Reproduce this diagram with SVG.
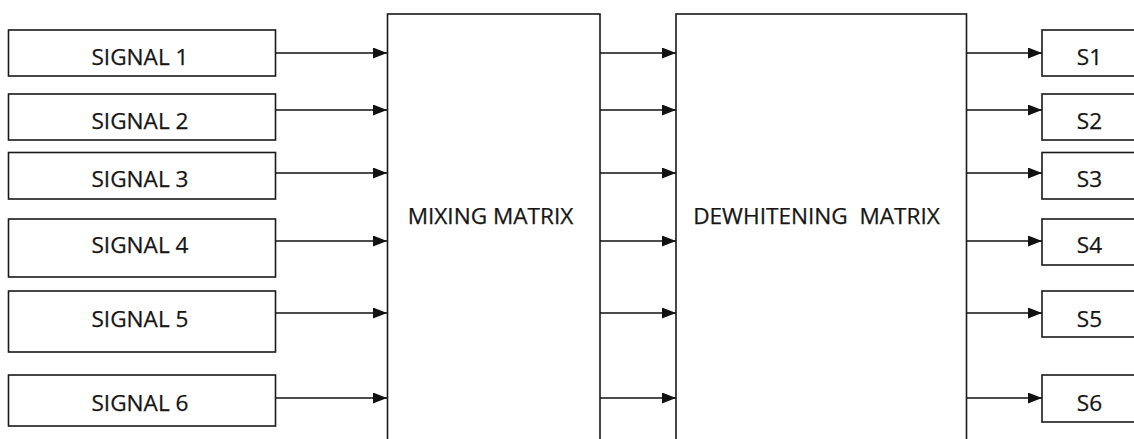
<svg xmlns="http://www.w3.org/2000/svg" width="1134" height="439" viewBox="0 0 1134 439">
<style>
.box{fill:#fff;stroke:#1a1a1a;stroke-width:1.6}
.lbl{font-family:"Open Sans","Liberation Sans",sans-serif;font-size:22.6px;fill:#161616;stroke:#161616;stroke-width:0.25;text-anchor:middle;white-space:pre}
.con{stroke:#111;stroke-width:1.6;fill:none;marker-end:url(#arr)}
</style>
<defs>
<marker id="arr" viewBox="0 0 14 11" refX="14" refY="5.5" markerWidth="14" markerHeight="11" markerUnits="userSpaceOnUse" orient="auto">
<path d="M0,0 L14,5.5 L0,11 Z" fill="#111"/>
</marker>
</defs>
<rect width="1134" height="439" fill="#fff"/>
<g id="signal1"><rect class="box" x="8.5" y="30" width="267" height="46"/><text class="lbl" x="140" y="65">SIGNAL 1</text></g>
<g id="signal2"><rect class="box" x="8.5" y="94" width="267" height="46"/><text class="lbl" x="140" y="129">SIGNAL 2</text></g>
<g id="signal3"><rect class="box" x="8.5" y="152.5" width="267" height="46.5"/><text class="lbl" x="140" y="187">SIGNAL 3</text></g>
<g id="signal4"><rect class="box" x="8.5" y="219" width="267" height="58"/><text class="lbl" x="140" y="253">SIGNAL 4</text></g>
<g id="signal5"><rect class="box" x="8.5" y="291" width="267" height="61"/><text class="lbl" x="140" y="327">SIGNAL 5</text></g>
<g id="signal6"><rect class="box" x="8.5" y="375" width="267" height="51"/><text class="lbl" x="140" y="411">SIGNAL 6</text></g>
<g id="mixing"><rect class="box" x="387.5" y="14" width="212.5" height="440"/><text class="lbl" x="490.5" y="224">MIXING MATRIX</text></g>
<g id="dewhitening"><rect class="box" x="676" y="14" width="290.5" height="440"/><text class="lbl" x="816.5" y="224">DEWHITENING  MATRIX</text></g>
<g id="s1"><rect class="box" x="1042" y="30" width="110" height="46"/><text class="lbl" x="1089.5" y="65">S1</text></g>
<g id="s2"><rect class="box" x="1042" y="94" width="110" height="46"/><text class="lbl" x="1089.5" y="129">S2</text></g>
<g id="s3"><rect class="box" x="1042" y="152.5" width="110" height="46.5"/><text class="lbl" x="1089.5" y="187">S3</text></g>
<g id="s4"><rect class="box" x="1042" y="219" width="110" height="46"/><text class="lbl" x="1089.5" y="253">S4</text></g>
<g id="s5"><rect class="box" x="1042" y="291" width="110" height="46"/><text class="lbl" x="1089.5" y="327">S5</text></g>
<g id="s6"><rect class="box" x="1042" y="375" width="110" height="47"/><text class="lbl" x="1089.5" y="411">S6</text></g>
<g id="connectors">
<path class="con" d="M276,53 H387"/>
<path class="con" d="M276,110 H387"/>
<path class="con" d="M276,173 H387"/>
<path class="con" d="M276,241 H387"/>
<path class="con" d="M276,313 H387"/>
<path class="con" d="M276,398 H387"/>
<path class="con" d="M600,53 H676"/>
<path class="con" d="M600,110 H676"/>
<path class="con" d="M600,173 H676"/>
<path class="con" d="M600,241 H676"/>
<path class="con" d="M600,313 H676"/>
<path class="con" d="M600,398 H676"/>
<path class="con" d="M967,53 H1042"/>
<path class="con" d="M967,110 H1042"/>
<path class="con" d="M967,173 H1042"/>
<path class="con" d="M967,241 H1042"/>
<path class="con" d="M967,313 H1042"/>
<path class="con" d="M967,398 H1042"/>
</g>
</svg>
